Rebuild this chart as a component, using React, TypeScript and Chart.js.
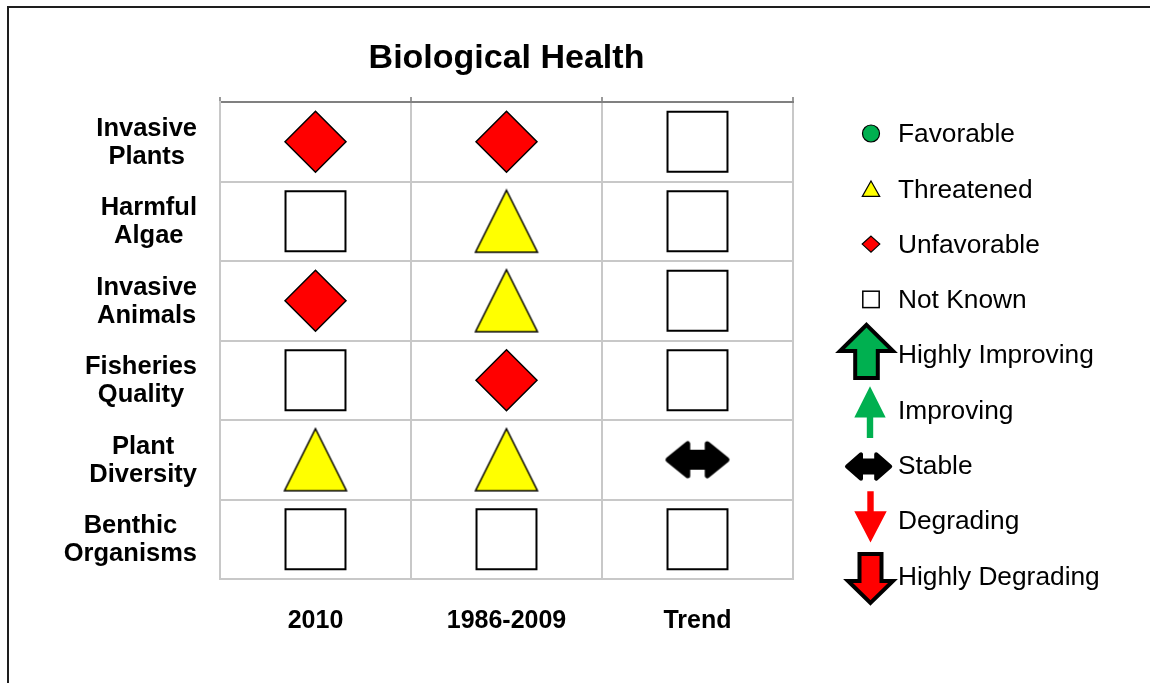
import React, { useEffect, useRef } from "react";
import { Chart, registerables } from "chart.js";

Chart.register(...registerables);

// ---------- data ----------
const titleText = "Biological Health";
const columnLabels = ["2010", "1986-2009", "Trend"];
const rowLabels = [
  "Invasive Plants",
  "Harmful Algae",
  "Invasive Animals",
  "Fisheries Quality",
  "Plant Diversity",
  "Benthic Organisms",
];
const status2010 = ["Unfavorable", "Not Known", "Unfavorable", "Not Known", "Threatened", "Not Known"];
const status1986 = ["Unfavorable", "Threatened", "Threatened", "Unfavorable", "Threatened", "Not Known"];
const statusTrend = ["Not Known", "Not Known", "Not Known", "Not Known", "Stable", "Not Known"];
const legendLabels = [
  "Favorable",
  "Threatened",
  "Unfavorable",
  "Not Known",
  "Highly Improving",
  "Improving",
  "Stable",
  "Degrading",
  "Highly Degrading",
];

// ---------- styles ----------
const GREEN = "#00b050";
const RED = "#ff0000";
const YELLOW = "#ffff00";
const FONT = "'Liberation Sans', Arial, Helvetica, sans-serif";
const GRID = "#c8c8c8";

type Pt = [number, number];

function poly(ctx: CanvasRenderingContext2D, pts: Pt[]) {
  ctx.beginPath();
  ctx.moveTo(pts[0][0], pts[0][1]);
  for (let i = 1; i < pts.length; i++) ctx.lineTo(pts[i][0], pts[i][1]);
  ctx.closePath();
}

function vArrow(cx: number, cy: number, tipDy: number, baseDy: number, endDy: number, headHalf: number, shaftHalf: number): Pt[] {
  return [
    [cx, cy + tipDy],
    [cx + headHalf, cy + baseDy],
    [cx + shaftHalf, cy + baseDy],
    [cx + shaftHalf, cy + endDy],
    [cx - shaftHalf, cy + endDy],
    [cx - shaftHalf, cy + baseDy],
    [cx - headHalf, cy + baseDy],
  ];
}

function dArrow(cx: number, cy: number, halfW: number, halfH: number, shaftHalf: number, headLen: number): Pt[] {
  return [
    [cx - halfW, cy],
    [cx - halfW + headLen, cy - halfH],
    [cx - halfW + headLen, cy - shaftHalf],
    [cx + halfW - headLen, cy - shaftHalf],
    [cx + halfW - headLen, cy - halfH],
    [cx + halfW, cy],
    [cx + halfW - headLen, cy + halfH],
    [cx + halfW - headLen, cy + shaftHalf],
    [cx - halfW + headLen, cy + shaftHalf],
    [cx - halfW + headLen, cy + halfH],
  ];
}

function drawStable(ctx: CanvasRenderingContext2D, cx: number, cy: number, halfW: number, halfH: number, shaftHalf: number, headLen: number, r: number) {
  poly(ctx, dArrow(cx, cy, halfW - r, halfH - r, shaftHalf - r, headLen - r * 0.5));
  ctx.fillStyle = "#000";
  ctx.fill();
  ctx.lineJoin = "round";
  ctx.lineWidth = r * 2;
  ctx.strokeStyle = "#000";
  ctx.stroke();
}

function makeCanvas(w: number, h: number, draw: (ctx: CanvasRenderingContext2D) => void) {
  const c = document.createElement("canvas");
  c.width = w;
  c.height = h;
  const ctx = c.getContext("2d")!;
  draw(ctx);
  return c;
}

function drawLegendMarker(ctx: CanvasRenderingContext2D, label: string, cx: number, cy: number) {
  ctx.save();
  ctx.lineJoin = "miter";
  switch (label) {
    case "Favorable":
      ctx.beginPath();
      ctx.arc(cx, cy, 8.5, 0, Math.PI * 2);
      ctx.fillStyle = GREEN;
      ctx.fill();
      ctx.lineWidth = 1.2;
      ctx.strokeStyle = "#000";
      ctx.stroke();
      break;
    case "Threatened":
      poly(ctx, [[cx, cy - 7.8], [cx + 8.7, cy + 7.6], [cx - 8.7, cy + 7.6]]);
      ctx.fillStyle = YELLOW;
      ctx.fill();
      ctx.lineWidth = 1.2;
      ctx.strokeStyle = "#000";
      ctx.stroke();
      break;
    case "Unfavorable":
      poly(ctx, [[cx, cy - 8], [cx + 8.8, cy], [cx, cy + 8], [cx - 8.8, cy]]);
      ctx.fillStyle = RED;
      ctx.fill();
      ctx.lineWidth = 1.2;
      ctx.strokeStyle = "#000";
      ctx.stroke();
      break;
    case "Not Known":
      ctx.fillStyle = "#fff";
      ctx.fillRect(cx - 8.2, cy - 8.2, 16.4, 16.4);
      ctx.lineWidth = 1.5;
      ctx.strokeStyle = "#000";
      ctx.strokeRect(cx - 8.2, cy - 8.2, 16.4, 16.4);
      break;
    case "Highly Improving":
      poly(ctx, vArrow(cx - 4.5, cy, -29.8, -3.7, 23.3, 26.5, 11.3));
      ctx.fillStyle = GREEN;
      ctx.fill();
      ctx.lineWidth = 4;
      ctx.strokeStyle = "#000";
      ctx.stroke();
      break;
    case "Improving":
      poly(ctx, vArrow(cx - 1, cy, -23.7, 7.5, 28, 15.7, 3.2));
      ctx.fillStyle = GREEN;
      ctx.fill();
      break;
    case "Stable":
      drawStable(ctx, cx - 2.4, cy + 1.2, 23.6, 14.2, 8, 15, 2);
      break;
    case "Degrading":
      poly(ctx, vArrow(cx - 0.5, cy, 22, -9.3, -29.3, 16.2, 3.2));
      ctx.fillStyle = RED;
      ctx.fill();
      break;
    case "Highly Degrading":
      poly(ctx, vArrow(cx - 0.5, cy, 27, 5, -22, 22.5, 11));
      ctx.fillStyle = RED;
      ctx.fill();
      ctx.lineWidth = 4;
      ctx.strokeStyle = "#000";
      ctx.stroke();
      break;
  }
  ctx.restore();
}

const framePlugin = {
  id: "frame",
  beforeDraw(chart: any) {
    const ctx = chart.ctx as CanvasRenderingContext2D;
    ctx.save();
    ctx.fillStyle = "#fff";
    ctx.fillRect(0, 0, chart.width, chart.height);
    ctx.fillStyle = "#1e1e1e";
    ctx.fillRect(7, 6, 2, 677);
    ctx.fillRect(7, 6, 1143, 2);
    ctx.restore();
  },
};

const rowLabelPlugin = {
  id: "rowLabels",
  afterDraw(chart: any) {
    const ctx = chart.ctx as CanvasRenderingContext2D;
    const yScale = chart.scales.y;
    const labels: string[] = yScale.getLabels();
    ctx.save();
    ctx.font = `bold 25.5px ${FONT}`;
    ctx.fillStyle = "#000";
    ctx.textAlign = "center";
    ctx.textBaseline = "middle";
    const right = 197;
    const lh = 28.4;
    labels.forEach((lab, i) => {
      const lines = lab.split(" ");
      const w = Math.max(...lines.map((l) => ctx.measureText(l).width));
      const cx = right - w / 2;
      const cy = yScale.getPixelForValue(i) + 1;
      const y0 = cy - ((lines.length - 1) * lh) / 2;
      lines.forEach((l, k) => ctx.fillText(l, cx, y0 + k * lh));
    });
    ctx.restore();
  },
};

const legendPlugin = {
  id: "customLegend",
  afterDraw(chart: any) {
    const ctx = chart.ctx as CanvasRenderingContext2D;
    ctx.save();
    legendLabels.forEach((lab, i) => {
      const cy = 133.5 + i * 55.3;
      drawLegendMarker(ctx, lab, 871, cy);
      ctx.font = `26.3px ${FONT}`;
      ctx.fillStyle = "#000";
      ctx.textAlign = "left";
      ctx.textBaseline = "middle";
      ctx.fillText(lab, 898, cy + 1.5);
    });
    ctx.restore();
  },
};

export default function App() {
  const ref = useRef<HTMLCanvasElement>(null);

  useEffect(() => {
    const canvas = ref.current;
    if (!canvas) return;

    const triangleImg = makeCanvas(66, 66, (ctx) => {
      poly(ctx, [[33, 2], [64, 64], [2, 64]]);
      ctx.fillStyle = YELLOW;
      ctx.fill();
      ctx.lineWidth = 1.5;
      ctx.strokeStyle = "#000";
      ctx.stroke();
    });
    const stableImg = makeCanvas(70, 44, (ctx) => {
      drawStable(ctx, 35, 22, 32, 18.5, 10, 21, 2.5);
    });

    const statusStyle: Record<string, any> = {
      Favorable: { pointStyle: "circle", pointRadius: 30, pointBackgroundColor: GREEN, pointBorderWidth: 1.5 },
      Threatened: { pointStyle: triangleImg, pointRadius: 31, pointBackgroundColor: YELLOW, pointBorderWidth: 0 },
      Unfavorable: { pointStyle: "rectRot", pointRadius: 30.5, pointBackgroundColor: RED, pointBorderWidth: 1.5 },
      "Not Known": { pointStyle: "rect", pointRadius: 42.4, pointBackgroundColor: "#fff", pointBorderWidth: 2 },
      Stable: { pointStyle: stableImg, pointRadius: 30, pointBackgroundColor: "#000", pointBorderWidth: 0 },
    };

    const statusColumns = [status2010, status1986, statusTrend];
    const datasets = Object.keys(statusStyle).map((status) => {
      const data: { x: string; y: string }[] = [];
      statusColumns.forEach((col, c) => {
        col.forEach((s, r) => {
          if (s === status) data.push({ x: columnLabels[c], y: rowLabels[r] });
        });
      });
      return {
        label: status,
        data,
        pointBorderColor: "#000",
        ...statusStyle[status],
      };
    });

    const chart = new Chart(canvas, {
      type: "scatter",
      data: { datasets: datasets as any },
      options: {
        animation: false,
        responsive: false,
        devicePixelRatio: 1,
        events: [],
        layout: { padding: { left: 0, right: 358, top: 0, bottom: 0 } },
        plugins: {
          legend: { display: false },
          tooltip: { enabled: false },
          title: {
            display: true,
            text: titleText,
            fullSize: false,
            color: "#000",
            font: { family: FONT, size: 34, weight: "bold" },
            padding: { top: 38, bottom: 8 },
          },
        },
        scales: {
          x: {
            type: "category",
            labels: columnLabels,
            position: "bottom",
            offset: true,
            grid: { offset: true, color: GRID, lineWidth: 2, drawTicks: false },
            border: { color: GRID, width: 2 },
            ticks: { color: "#000", padding: 27, font: { family: FONT, size: 25, weight: "bold" } },
            afterFit: (s: any) => {
              s.height = 104;
            },
          },
          xTop: {
            type: "category",
            labels: columnLabels,
            position: "top",
            offset: true,
            grid: { offset: true, drawOnChartArea: false, color: "#9a9a9a", lineWidth: 2, tickLength: 5 },
            border: { color: "#808080", width: 2 },
            ticks: { display: false },
            afterFit: (s: any) => {
              s.height = 15.2;
            },
          },
          y: {
            type: "category",
            labels: rowLabels,
            position: "left",
            offset: true,
            grid: { offset: true, color: GRID, lineWidth: 2, drawTicks: false },
            border: { color: GRID, width: 2 },
            ticks: { display: false },
            afterFit: (s: any) => {
              s.width = 220;
            },
          },
        } as any,
      },
      plugins: [framePlugin, rowLabelPlugin, legendPlugin],
    });

    return () => chart.destroy();
  }, []);

  return (
    <div style={{ position: "fixed", left: 0, top: 0, width: 1151, height: 683, background: "#fff", overflow: "hidden" }}>
      <canvas ref={ref} width={1151} height={683} style={{ display: "block", width: 1151, height: 683 }} />
    </div>
  );
}
